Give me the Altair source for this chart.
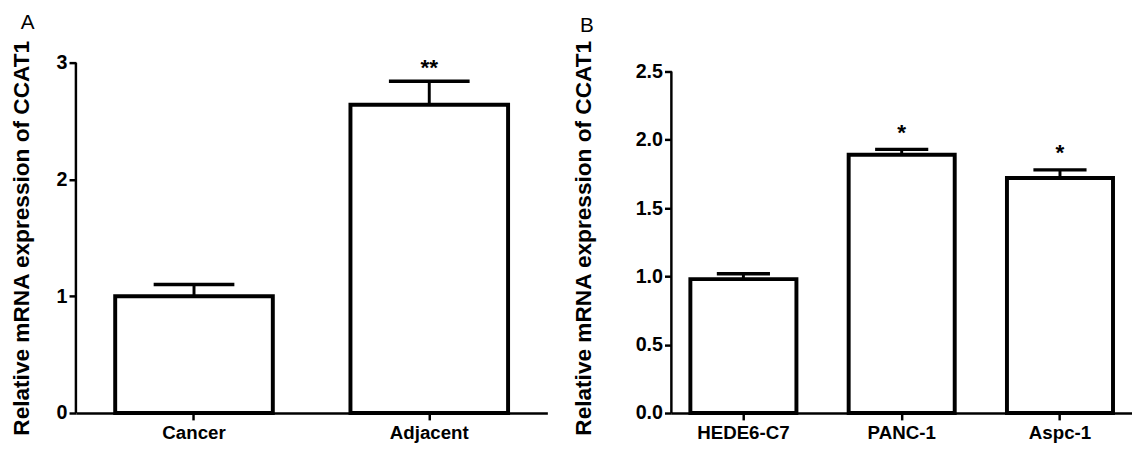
import altair as alt
import pandas as pd

# Panel A data
groups_a = ["Cancer", "Adjacent"]
means_a = [1.00, 2.64]
errs_a = [0.10, 0.20]
sig_a = ["", "**"]

# Panel B data
groups_b = ["HEDE6-C7", "PANC-1", "Aspc-1"]
means_b = [0.98, 1.89, 1.72]
errs_b = [0.04, 0.04, 0.06]
sig_b = ["", "*", "*"]

ticks_a = [0, 1, 2, 3]
ticks_b = [0.0, 0.5, 1.0, 1.5, 2.0, 2.5]

FONT = "Liberation Sans"


def make_df(groups, means, errs, sig):
    df = pd.DataFrame({"group": groups, "mean": means, "err": errs, "sig": sig})
    df["upper"] = df["mean"] + df["err"]
    return df


def panel(df, order, letter, letter_dx, ytitle, title_pad, ymax, ticks, width, pad_outer,
          cap, star_dy, star_size, tick_fmt):
    yscale = alt.Scale(domain=[0, ymax], nice=False, zero=True)
    xscale = alt.Scale(paddingInner=0.33, paddingOuter=pad_outer)
    xenc = alt.X(
        "group:N", sort=order, scale=xscale, title=None,
        axis=alt.Axis(labelAngle=0, labelFont=FONT, labelFontSize=19, labelFontWeight="bold",
                      labelColor="black", domainColor="black", domainWidth=2.5,
                      tickColor="black", tickWidth=2.5, tickSize=7, labelPadding=4),
    )
    yaxis = alt.Axis(values=ticks, format=tick_fmt, title=ytitle, domain=False, grid=False,
                     labelFont=FONT, labelFontSize=20, labelFontWeight="bold", labelColor="black",
                     tickColor="black", tickWidth=2.5, tickSize=7, labelPadding=2,
                     titleFont=FONT, titleFontSize=23, titleFontWeight="bold", titleColor="black",
                     titlePadding=title_pad)
    yline_df = pd.DataFrame({"lo": [ticks[0]], "hi": [ticks[-1]]})
    yline = alt.Chart(yline_df).mark_rule(color="black", strokeWidth=2.5, opacity=1).encode(
        x=alt.value(0),
        y=alt.Y("hi:Q", scale=yscale, axis=yaxis),
        y2="lo:Q",
    )
    base = alt.Chart(df)
    bars = base.mark_bar(fill="white", stroke="black", strokeWidth=4, strokeJoin="miter",
                         opacity=1).encode(
        x=xenc, y=alt.Y("mean:Q", scale=yscale, axis=yaxis)
    )
    stem = base.mark_rule(color="black", strokeWidth=3, opacity=1).encode(
        x=alt.X("group:N", sort=order), y=alt.Y("mean:Q", scale=yscale, axis=yaxis), y2="upper:Q"
    )
    caps = base.mark_tick(color="black", thickness=3.5, size=cap, orient="horizontal",
                          opacity=1).encode(
        x=alt.X("group:N", sort=order), y=alt.Y("upper:Q", scale=yscale, axis=yaxis)
    )
    stars = base.mark_text(font=FONT, fontSize=star_size, fontWeight="bold", color="black",
                           baseline="middle", dy=star_dy).encode(
        x=alt.X("group:N", sort=order), y=alt.Y("upper:Q", scale=yscale, axis=yaxis), text="sig:N"
    )
    return alt.layer(yline, bars, stem, caps, stars).properties(
        width=width, height=356,
        title=alt.TitleParams(text=letter, anchor="start", frame="bounds", font=FONT, fontSize=21,
                              fontWeight="normal", color="black", offset=4, dx=letter_dx),
    )


df_a = make_df(groups_a, means_a, errs_a, sig_a)
df_b = make_df(groups_b, means_b, errs_b, sig_b)

chart_a = panel(df_a, groups_a, "A", 10, "Relative mRNA expression of  CCAT1", 23, 3.0, ticks_a,
                479, 0.167, 82, -13, 23, "d")
chart_b = panel(df_b, groups_b, "B", 7, "Relative mRNA expression of CCAT1", 40, 2.565, ticks_b,
                468, 0.12, 54, -17, 23, ".1f")

chart = alt.hconcat(chart_a, chart_b, spacing=26).properties(
    padding={"left": 2, "top": 0, "right": 0, "bottom": 0}
).configure(background="white", view=alt.ViewConfig(stroke=None))

chart.save("out.html", embed_options={"renderer": "svg", "actions": False})
